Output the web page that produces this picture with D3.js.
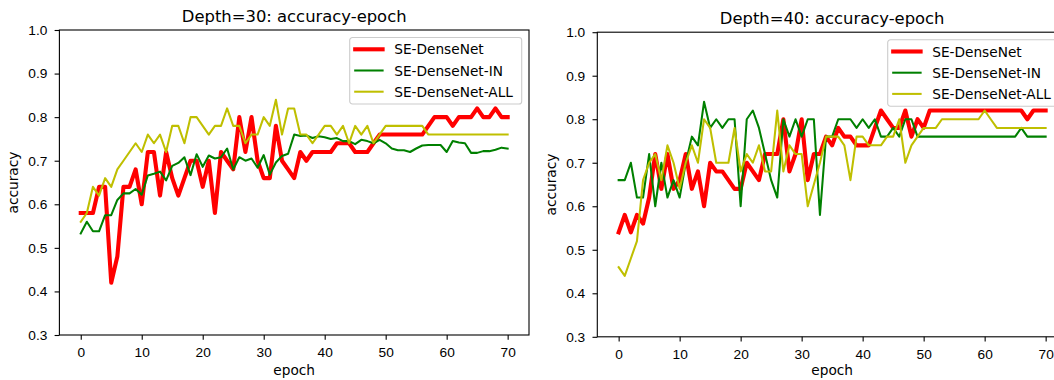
<!DOCTYPE html>
<html>
<head>
  <meta charset="utf-8">
  <script src="https://d3js.org/d3.v7.min.js"></script>
  <style>
    body { margin: 0; background: #fff; }
    svg { display: block; font-family: "DejaVu Sans", sans-serif; }
    .tick text { font-size: 13.7px; fill: #000; }
    .tick line { stroke: #000; stroke-width: 1.1; }
  </style>
</head>
<body>
<div id="chart"></div>
<script>
(function(d3) {
  'use strict';

  var seriesNames = ['SE-DenseNet', 'SE-DenseNet-IN', 'SE-DenseNet-ALL'];
  var xTicks = [0, 10, 20, 30, 40, 50, 60, 70];
  var yTicks = [0.3, 0.4, 0.5, 0.6, 0.7, 0.8, 0.9, 1.0];

  // depth 30
  var d30Se = [0.58,0.58,0.58,0.64,0.64,0.42,0.48,0.64,0.64,0.68,
    0.60,0.72,0.72,0.62,0.72,0.66,0.62,0.66,0.70,0.70,
    0.64,0.70,0.58,0.72,0.70,0.68,0.80,0.72,0.80,0.70,
    0.66,0.66,0.78,0.70,0.68,0.66,0.72,0.70,0.72,0.72,
    0.72,0.72,0.74,0.74,0.74,0.72,0.72,0.72,0.74,0.76,
    0.76,0.76,0.76,0.76,0.76,0.76,0.76,0.78,0.80,0.80,
    0.80,0.78,0.80,0.80,0.80,0.82,0.80,0.80,0.82,0.80,0.80];
  var d30In = [0.533,0.560,0.538,0.538,0.575,0.575,0.610,0.625,0.625,0.635,
    0.622,0.666,0.670,0.675,0.655,0.688,0.695,0.708,0.667,0.715,
    0.686,0.712,0.705,0.708,0.728,0.680,0.708,0.700,0.705,0.684,
    0.713,0.668,0.696,0.711,0.716,0.760,0.757,0.758,0.752,0.756,
    0.754,0.750,0.752,0.745,0.745,0.738,0.748,0.745,0.740,0.748,
    0.740,0.728,0.724,0.724,0.720,0.728,0.735,0.736,0.736,0.736,
    0.720,0.745,0.742,0.740,0.718,0.718,0.722,0.722,0.725,0.730,0.728];
  var d30All = [0.56,0.58,0.64,0.62,0.66,0.64,0.68,0.70,0.72,0.74,
    0.72,0.76,0.74,0.76,0.72,0.78,0.78,0.74,0.80,0.80,
    0.78,0.76,0.78,0.78,0.82,0.78,0.78,0.74,0.76,0.76,
    0.80,0.78,0.84,0.76,0.82,0.82,0.76,0.76,0.74,0.76,
    0.78,0.78,0.76,0.78,0.74,0.78,0.76,0.78,0.74,0.76,
    0.78,0.78,0.78,0.78,0.78,0.78,0.78,0.76,0.76,0.76,
    0.76,0.76,0.76,0.76,0.76,0.76,0.76,0.76,0.76,0.76,0.76];

  // depth 40
  var d40Se = [0.54,0.58,0.54,0.58,0.56,0.62,0.72,0.64,0.72,0.64,
    0.66,0.72,0.64,0.68,0.60,0.70,0.68,0.68,0.66,0.64,
    0.64,0.70,0.68,0.66,0.72,0.72,0.72,0.80,0.68,0.72,
    0.80,0.66,0.72,0.72,0.76,0.74,0.78,0.76,0.76,0.74,
    0.74,0.74,0.78,0.82,0.80,0.78,0.78,0.82,0.76,0.80,
    0.78,0.82,0.82,0.82,0.82,0.82,0.82,0.82,0.82,0.82,
    0.82,0.82,0.82,0.82,0.82,0.82,0.82,0.80,0.82,0.82,0.82];
  var d40In = [0.66,0.66,0.70,0.62,0.62,0.72,0.60,0.70,0.62,0.66,
    0.62,0.70,0.76,0.74,0.84,0.78,0.80,0.78,0.80,0.80,
    0.60,0.80,0.82,0.78,0.72,0.66,0.62,0.80,0.76,0.80,
    0.76,0.80,0.80,0.58,0.76,0.76,0.80,0.80,0.80,0.78,
    0.80,0.78,0.80,0.76,0.76,0.78,0.76,0.80,0.80,0.76,
    0.76,0.76,0.76,0.76,0.76,0.76,0.76,0.76,0.76,0.76,
    0.76,0.76,0.76,0.76,0.76,0.76,0.78,0.76,0.76,0.76,0.76];
  var d40All = [0.46,0.44,0.48,0.52,0.66,0.70,0.72,0.66,0.74,0.70,
    0.64,0.70,0.74,0.70,0.80,0.78,0.70,0.70,0.70,0.78,
    0.68,0.72,0.70,0.74,0.68,0.68,0.82,0.68,0.74,0.72,
    0.72,0.60,0.65,0.70,0.76,0.76,0.76,0.74,0.66,0.76,
    0.76,0.74,0.74,0.74,0.76,0.76,0.80,0.70,0.74,0.76,
    0.78,0.78,0.78,0.80,0.80,0.80,0.80,0.80,0.80,0.80,
    0.82,0.80,0.78,0.78,0.78,0.78,0.78,0.78,0.78,0.78,0.78];

  var colors = ['#ff0000', '#008000', '#bfbf00'];
  var widths = [4.1, 2.05, 2.05];

  var svg = d3.select('#chart')
    .append('svg')
    .attr('width', 1054)
    .attr('height', 380);

  function panel(title, series, box) {
    var x = d3.scaleLinear().domain([-3.5, 73.5]).range([box.left, box.right]);
    var y = d3.scaleLinear().domain([0.3, 1.0]).range([box.bottom, box.top]);
    var g = svg.append('g');

    var line = d3.line()
      .x(function(d, i) { return x(i); })
      .y(function(d) { return y(d); });

    series.forEach(function(s, k) {
      g.append('path')
        .datum(s)
        .attr('d', line)
        .attr('fill', 'none')
        .attr('stroke', colors[k])
        .attr('stroke-width', widths[k])
        .attr('stroke-linejoin', 'round')
        .attr('stroke-linecap', 'square');
    });

    var xAxis = g.append('g')
      .attr('transform', 'translate(0,' + box.bottom + ')')
      .call(d3.axisBottom(x).tickValues(xTicks).tickSize(4.8).tickPadding(7.5).tickSizeOuter(0));
    var yAxis = g.append('g')
      .attr('transform', 'translate(' + box.left + ',0)')
      .call(d3.axisLeft(y).tickValues(yTicks).tickFormat(d3.format('.1f')).tickSize(4.8).tickPadding(7.3).tickSizeOuter(0));
    xAxis.select('.domain').remove();
    yAxis.select('.domain').remove();
    g.selectAll('.tick text').attr('font-family', null).attr('font-size', null);

    g.append('rect')
      .attr('x', box.left)
      .attr('y', box.top)
      .attr('width', box.right - box.left)
      .attr('height', box.bottom - box.top)
      .attr('fill', 'none')
      .attr('stroke', '#000')
      .attr('stroke-width', 1.1);

    g.append('text')
      .attr('x', (box.left + box.right) / 2)
      .attr('y', box.top - 8.5)
      .attr('text-anchor', 'middle')
      .style('font-size', '16.4px')
      .text(title);

    g.append('text')
      .attr('x', (box.left + box.right) / 2)
      .attr('y', 375)
      .attr('text-anchor', 'middle')
      .style('font-size', '13.7px')
      .text('epoch');

    g.append('text')
      .attr('transform', 'translate(' + (box.left - 41.5) + ',' + ((box.top + box.bottom) / 2) + ') rotate(-90)')
      .attr('text-anchor', 'middle')
      .style('font-size', '13.7px')
      .text('accuracy');

    // legend
    var lw = 172, lh = 66.5;
    var lx = box.right - 7.3 - lw, ly = box.top + 7.5;
    var legend = g.append('g').attr('transform', 'translate(' + lx + ',' + ly + ')');
    legend.append('rect')
      .attr('width', lw)
      .attr('height', lh)
      .attr('rx', 2.8)
      .attr('fill', 'rgba(255,255,255,0.8)')
      .attr('stroke', '#cccccc')
      .attr('stroke-width', 1.1);
    var item = legend.selectAll('.legend')
      .data(seriesNames)
      .enter()
      .append('g')
      .attr('class', 'legend')
      .attr('transform', function(d, i) { return 'translate(0,' + (11.8 + i * 21.2) + ')'; });
    item.append('line')
      .attr('x1', 5.5)
      .attr('x2', 32.9)
      .attr('stroke', function(d, i) { return colors[i]; })
      .attr('stroke-width', function(d, i) { return widths[i]; })
      .attr('stroke-linecap', 'square');
    item.append('text')
      .attr('x', 44.5)
      .attr('y', 5)
      .style('font-size', '13.7px')
      .text(function(d) { return d; });
  }

  panel('Depth=30: accuracy-epoch', [d30Se, d30In, d30All],
    { left: 59.4, right: 529, top: 30, bottom: 335 });
  panel('Depth=40: accuracy-epoch', [d40Se, d40In, d40All],
    { left: 597.3, right: 1067, top: 32.2, bottom: 336.8 });

})(window.d3);
</script>
</body>
</html>
